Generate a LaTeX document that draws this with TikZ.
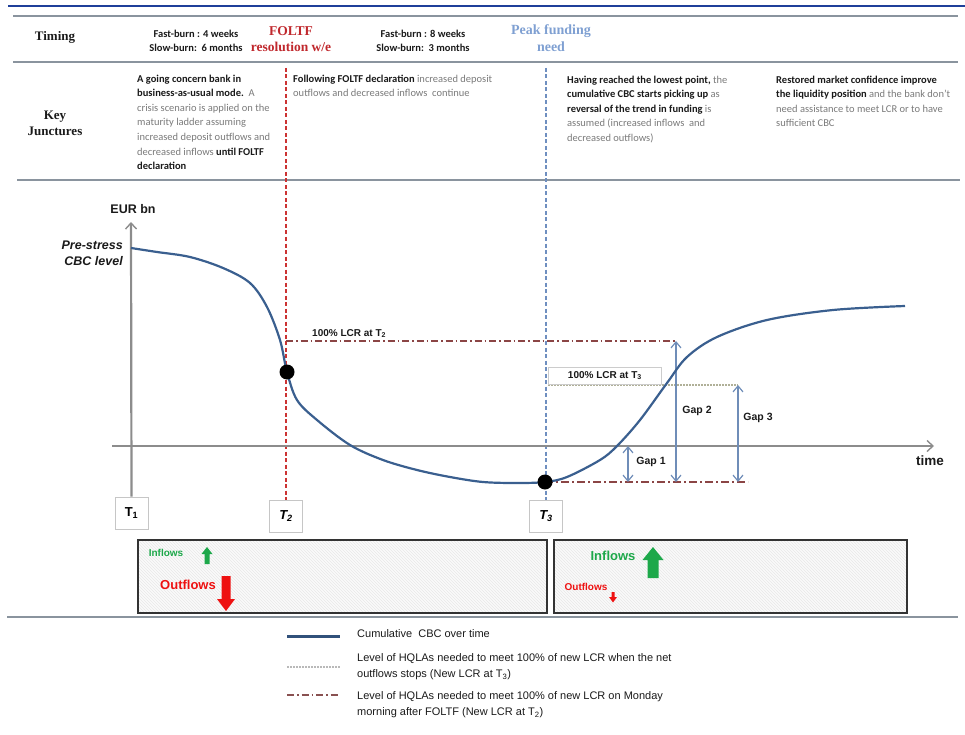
\documentclass[tikz,border=0pt]{standalone}
\usepackage{fontspec}
\setmainfont{Carlito}
\newfontfamily\arial{Liberation Sans}
\newfontfamily\serifb{Liberation Serif}
\usetikzlibrary{arrows.meta,patterns}
\definecolor{topblue}{HTML}{1F3F99}
\definecolor{sepgray}{HTML}{8A949E}
\definecolor{cbcblue}{HTML}{3A5F8F}
\definecolor{axisgray}{HTML}{8C8C8C}
\definecolor{foltfred}{HTML}{C0282D}
\definecolor{foltfline}{HTML}{CC3333}
\definecolor{peakblue}{HTML}{7FA0D2}
\definecolor{peakline}{HTML}{6F8FC0}
\definecolor{lcrtwo}{HTML}{8B4545}
\definecolor{lcrthree}{HTML}{B0B098}
\definecolor{gapblue}{HTML}{6F8DB8}
\definecolor{ingreen}{HTML}{1DA84A}
\definecolor{outred}{HTML}{EE1111}
\definecolor{jgray}{HTML}{7A7A7A}
\definecolor{jblack}{HTML}{1A1A1A}
\begin{document}
\begin{tikzpicture}[x=1pt,y=-1pt,
  sepline/.style={draw=sepgray,line width=2.2pt},
  hdr/.style={font=\serifb\bfseries\fontsize{13}{15}\selectfont,inner sep=0pt,align=center},
  burn/.style={font=\bfseries\fontsize{10.5}{14}\selectfont,inner sep=0pt,align=center,text=jblack},
  juncture/.style={font=\fontsize{10.5}{14.6}\selectfont,text=jgray,align=left,anchor=north west,inner sep=0pt},
  glabel/.style={font=\arial\bfseries\fontsize{12.5}{16}\selectfont,inner sep=0pt,text=jblack},
  smlabel/.style={font=\arial\bfseries\fontsize{10}{12}\selectfont,inner sep=0pt,text=jblack},
  tbox/.style={draw=gray!45,fill=white,line width=0.8pt,minimum width=33pt,minimum height=32pt,inner sep=0pt,font=\arial\bfseries\fontsize{13}{15}\selectfont},
  axisline/.style={draw=axisgray,line width=2.2pt,-{Straight Barb[length=6pt,width=11pt,line width=1.4pt]}},
  cbc/.style={draw=cbcblue,line width=2.2pt},
  dot/.style={circle,fill=black,minimum size=15pt,inner sep=0pt},
  foltfdash/.style={draw=foltfline,line width=1.6pt,dash pattern=on 4pt off 2.5pt},
  peakdash/.style={draw=peakline,line width=1.3pt,dash pattern=on 4pt off 2.5pt},
  lcrtwoline/.style={draw=lcrtwo,line width=1.3pt,dash pattern=on 7pt off 3pt on 1.5pt off 3pt},
  lcrthreeline/.style={draw=lcrthree,line width=1.3pt,dash pattern=on 2pt off 1pt},
  gaparrow/.style={draw=gapblue,line width=1.2pt,{Straight Barb[length=6pt,width=10pt]}-{Straight Barb[length=6pt,width=10pt]}},
  flowbox/.style={draw=black!80,line width=2pt,preaction={fill=gray!4},pattern=north west lines,pattern color=gray!18,inner sep=0pt},
  legtext/.style={font=\arial\fontsize{11}{16}\selectfont,align=left,anchor=west,inner sep=0pt,text=jblack}]
\useasboundingbox (0,0) rectangle (965,735);
% header rules
\draw[draw=topblue,line width=2.6pt] (8,6) -- (965,6);
\draw[sepline] (13,16) -- (958,16);
\draw[sepline] (13,62) -- (958,62);
\draw[sepline] (17,180) -- (960,180);
\draw[sepline] (7,617) -- (958,617);
% timing row
\node[hdr,text=jblack] (timing) at (55,37) {Timing};
\node[burn] (burnA) at (196,41) {Fast-burn : 4 weeks\\Slow-burn:\ \ 6 months};
\node[hdr,text=foltfred,font=\serifb\bfseries\fontsize{13.5}{16}\selectfont] (foltf) at (291,39.5) {FOLTF\\resolution w/e};
\node[burn] (burnB) at (423,41) {Fast-burn : 8 weeks\\Slow-burn:\ \ 3 months};
\node[hdr,text=peakblue,font=\serifb\bfseries\fontsize{14}{17}\selectfont] (peak) at (551,38.5) {Peak funding\\need};
% key junctures row
\node[hdr,text=jblack,font=\serifb\bfseries\fontsize{13}{16}\selectfont] (keyj) at (55,123) {Key\\Junctures};
\node[juncture] (jA) at (137,74.5) {\textcolor{jblack}{\bfseries A going concern bank in}\\
\textcolor{jblack}{\bfseries business-as-usual mode.}\ \ A\\
crisis scenario is applied on the\\
maturity ladder assuming\\
increased deposit outflows and\\
decreased inflows \textcolor{jblack}{\bfseries until FOLTF}\\
\textcolor{jblack}{\bfseries declaration}};
\node[juncture] (jB) at (293,74.5) {\textcolor{jblack}{\bfseries Following FOLTF declaration} increased deposit\\
outflows and decreased inflows\ \ continue};
\node[juncture] (jC) at (567,75.5) {\textcolor{jblack}{\bfseries Having reached the lowest point,} the\\
\textcolor{jblack}{\bfseries cumulative CBC starts picking up} as\\
\textcolor{jblack}{\bfseries reversal of the trend in funding} is\\
assumed (increased inflows\ \ and\\
decreased outflows)};
\node[juncture] (jD) at (776,75.5) {\textcolor{jblack}{\bfseries Restored market confidence improve}\\
\textcolor{jblack}{\bfseries the liquidity position} and the bank don’t\\
need assistance to meet LCR or to have\\
sufficient CBC};
% time boxes
\node[tbox] (T1) at (131.5,513) {T\textsubscript{1}};
\node[tbox,font=\arial\bfseries\itshape\fontsize{13}{15}\selectfont] (T2) at (286,516) {T\textsubscript{2}};
\node[tbox,font=\arial\bfseries\itshape\fontsize{13}{15}\selectfont] (T3) at (546,516) {T\textsubscript{3}};
% vertical markers
\coordinate (redtop) at (286,68);
\coordinate (bluetop) at (546,68);
\draw[foltfdash] (redtop) -- (T2.north);
\draw[peakdash] (bluetop) -- (T3.north);
% axes
\coordinate (ytip) at (131,222);
\coordinate (xstart) at (112,446);
\coordinate (xtip) at (934,446);
\draw[axisline] (T1.north) -- (ytip);
\draw[axisline] (xstart) -- (xtip);
\node[glabel] (eur) at (133,209) {EUR bn};
\node[glabel,font=\arial\bfseries\itshape\fontsize{12.5}{16}\selectfont,align=right,anchor=east] (prestress) at (123,253) {Pre-stress\\CBC level};
\node[glabel,font=\arial\bfseries\fontsize{13.5}{16}\selectfont] (time) at (930,461) {time};
% LCR levels
\coordinate (l2a) at (286,341);
\coordinate (l2b) at (676,341);
\draw[lcrtwoline] (l2a) -- (l2b);
\node[smlabel,anchor=south west] (lcr2lbl) at (312,338) {100\% LCR at T\textsubscript{2}};
\coordinate (l3a) at (548,385);
\coordinate (l3b) at (738,385);
\draw[lcrthreeline] (l3a) -- (l3b);
\node[smlabel,anchor=south west,draw=gray!40,line width=0.8pt,minimum width=113pt,minimum height=17pt,fill=white] (lcr3lbl) at (548,384.5) {100\% LCR at T\textsubscript{3}};
\coordinate (bla) at (545,482);
\coordinate (blb) at (748,482);
\draw[draw=lcrtwo,line width=2pt,dash pattern=on 8pt off 3pt on 2pt off 3pt] (bla) -- (blb);
% gaps
\coordinate (g1a) at (628,446);
\coordinate (g1b) at (628,482);
\coordinate (g2a) at (676,341);
\coordinate (g2b) at (676,482);
\coordinate (g3a) at (738,385);
\coordinate (g3b) at (738,482);
\draw[gaparrow] (g1a) -- (g1b);
\draw[gaparrow] (g2a) -- (g2b);
\draw[gaparrow] (g3a) -- (g3b);
\node[smlabel,font=\arial\bfseries\fontsize{10.5}{12}\selectfont] (gap1) at (651,462) {Gap 1};
\node[smlabel,font=\arial\bfseries\fontsize{10.5}{12}\selectfont] (gap2) at (697,411) {Gap 2};
\node[smlabel,font=\arial\bfseries\fontsize{10.5}{12}\selectfont] (gap3) at (758,418) {Gap 3};
% CBC curve
\draw[cbc] plot[smooth,tension=0.55] coordinates {(131,248) (157,252) (190,257) (223,268) (250,283) (267,307) (280,340) (287,372) (297,400) (317,420) (350,445) (383,460) (417,470) (450,477) (483,482) (517,483) (545,482) (567,477) (600,460) (617,446) (640,420) (667,383) (687,357) (717,337) (767,320) (833,310) (905,306)};
\node[dot] (dotA) at (287,372) {};
\node[dot] (dotB) at (545,482) {};
% flow boxes
\node[flowbox,minimum width=409pt,minimum height=73pt] (boxL) at (342.5,576.5) {};
\node[flowbox,minimum width=353pt,minimum height=73pt] (boxR) at (730.5,576.5) {};
\node[smlabel,text=ingreen,font=\arial\bfseries\fontsize{10}{12}\selectfont] (inL) at (166,553) {Inflows};
\node[smlabel,text=outred,font=\arial\bfseries\fontsize{13}{15}\selectfont] (outL) at (188,585) {Outflows};
\node[smlabel,text=ingreen,font=\arial\bfseries\fontsize{13}{15}\selectfont] (inR) at (613,556) {Inflows};
\node[smlabel,text=outred,font=\arial\bfseries\fontsize{10}{12}\selectfont] (outR) at (586,587) {Outflows};
\fill[ingreen] (204.5,564) -- (204.5,554) -- (201.5,554) -- (207,547) -- (212.5,554) -- (209.5,554) -- (209.5,564) -- cycle;
\fill[outred] (221.5,576) -- (221.5,599) -- (217,599) -- (226,611) -- (235,599) -- (230.5,599) -- (230.5,576) -- cycle;
\fill[ingreen] (647.5,578) -- (647.5,560) -- (642.5,560) -- (653,547) -- (663.5,560) -- (658.5,560) -- (658.5,578) -- cycle;
\fill[outred] (611.5,592) -- (611.5,597) -- (609,597) -- (613,602.5) -- (617,597) -- (614.5,597) -- (614.5,592) -- cycle;
% legend
\coordinate (lg1a) at (287,636);
\coordinate (lg1b) at (340,636);
\coordinate (lg2a) at (287,667);
\coordinate (lg2b) at (340,667);
\coordinate (lg3a) at (287,695);
\coordinate (lg3b) at (340,695);
\draw[draw=cbcblue!85!black,line width=3pt] (lg1a) -- (lg1b);
\draw[draw=gray!55,line width=1.5pt,dash pattern=on 2pt off 1pt] (lg2a) -- (lg2b);
\draw[draw=lcrtwo!80!gray,line width=1.5pt,dash pattern=on 7pt off 3pt on 1.5pt off 3pt] (lg3a) -- (lg3b);
\node[legtext] (leg1) at (357,634) {Cumulative\ \ CBC over time};
\node[legtext] (leg2) at (357,667) {Level of HQLAs needed to meet 100\% of new LCR when the net\\outflows stops (New LCR at T\textsubscript{3})};
\node[legtext] (leg3) at (357,705) {Level of HQLAs needed to meet 100\% of new LCR on Monday\\morning after FOLTF (New LCR at T\textsubscript{2})};
\end{tikzpicture}
\end{document}
